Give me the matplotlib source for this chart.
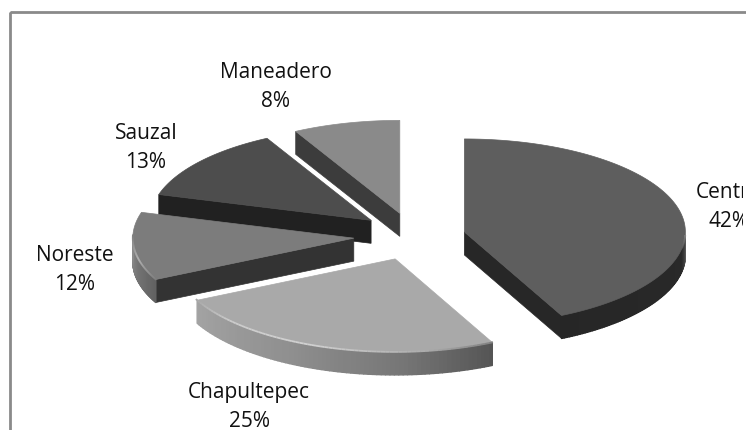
import numpy as np
import matplotlib
matplotlib.use('Agg')
import matplotlib.pyplot as plt
from matplotlib.patches import Polygon, Rectangle
from matplotlib.collections import PolyCollection, LineCollection

names = ['Centro', 'Chapultepec', 'Noreste', 'Sauzal', 'Maneadero']
percents = [42, 25, 12, 13, 8]

# how far each slice is pulled out, as a fraction of the radius
explode = [0.24, 0.29, 0.27, 0.24, 0.24]
nudge_y = [1.5, -3, -1, -2, -1]

top_colors = ['#5e5e5e', '#a9a9a9', '#7c7c7c', '#4d4d4d', '#8a8a8a']
cut_colors = ['#272727', '#555555', '#333333', '#212121', '#3c3c3c']

# wall shade along the outer edge, (angle, grey) stops
wall_angles = [[90, 93, 100, 152], [151, 175, 205, 242], [241, 255, 271], [284, 360], [331, 360]]
wall_greys = [[0.55, 0.3, 0.16, 0.15], [0.33, 0.46, 0.56, 0.64], [0.38, 0.45, 0.55], [0.2, 0.2], [0.2, 0.2]]

# light rim on the top edge, (angle, grey) stops
rim_angles = [[90, 92, 98], [151, 170, 200, 225, 242], [241, 255, 270], [], []]
rim_greys = [[0.6, 0.5, 0.37], [0.5, 0.68, 0.82, 0.8, 0.66], [0.5, 0.75, 0.5], [], []]

# label centres
label_x = [729, 249, 75, 146, 276]
label_y = [207, 407, 270, 148, 87]

CX, CY = 413, 236
RX, RY = 221, 93
DEPTH = 23
TEXT_RIGHT = 742.5


def arc_points(x0, y0, a):
    # small skew of the angles, the 3D view is not a clean ellipse
    r = np.radians(a + 2.8 * np.sin(np.radians(a / 2)))
    return np.column_stack([x0 + RX * np.sin(r), y0 - RY * np.cos(r)])


fig = plt.figure(figsize=(7.46, 4.3), dpi=100)
ax = fig.add_axes([0, 0, 1, 1])
ax.set_xlim(0, 746)
ax.set_ylim(430, 0)
ax.axis('off')

# chart area border, runs off the right and bottom
ax.add_patch(Rectangle((10, 12), 800, 500, fill=False, ec='#8a8a8a', lw=2.0, zorder=1))

stops = np.cumsum([0] + percents) * 3.6
draw_order = [4, 3, 2, 1, 0]

for z, i in enumerate(draw_order):
    a0, a1 = stops[i], stops[i + 1]
    mid = np.radians((a0 + a1) / 2)
    x0 = CX + explode[i] * RX * np.sin(mid)
    y0 = CY - explode[i] * RY * np.cos(mid) + nudge_y[i]
    base = 2 + z * 4
    apex = np.array([x0, y0])
    drop = np.array([0, DEPTH])

    # straight cut faces that look downward
    cut_angles = []
    if 180 < a0 < 360:
        cut_angles.append(a0)
    if 0 < a1 < 180:
        cut_angles.append(a1)
    for a in cut_angles:
        p = arc_points(x0, y0, np.array([a]))[0]
        ax.add_patch(Polygon([apex, p, p + drop, apex + drop], fc=cut_colors[i],
                             ec=cut_colors[i], lw=0.5, zorder=base))

    # outer wall, only the front half of the ellipse shows
    w0, w1 = max(a0, 90), min(a1, 270)
    if w1 > w0:
        ang = np.linspace(w0, w1, 80)
        edge = arc_points(x0, y0, ang)
        quads = [[edge[k], edge[k + 1], edge[k + 1] + drop, edge[k] + drop] for k in range(len(edge) - 1)]
        greys = np.interp((ang[:-1] + ang[1:]) / 2, wall_angles[i], wall_greys[i])
        colors = [(g, g, g) for g in greys]
        ax.add_collection(PolyCollection(quads, facecolors=colors, edgecolors=colors,
                                         linewidths=1.0, zorder=base + 1))

    # top face
    ang = np.linspace(a0, a1, 120)
    edge = arc_points(x0, y0, ang)
    ax.add_patch(Polygon(np.vstack([apex, edge]), fc=top_colors[i], ec=top_colors[i],
                         lw=0.5, zorder=base + 2))

    # highlight along the rim
    if rim_angles[i]:
        ang = np.linspace(rim_angles[i][0], rim_angles[i][-1], 80)
        edge = arc_points(x0, y0, ang)
        segs = [[edge[k], edge[k + 1]] for k in range(len(edge) - 1)]
        greys = np.interp((ang[:-1] + ang[1:]) / 2, rim_angles[i], rim_greys[i])
        ax.add_collection(LineCollection(segs, colors=[(g, g, g) for g in greys],
                                         linewidths=1.3, zorder=base + 3))

# labels stop short of the right side, the Centro one gets cut there
text_clip = Rectangle((0, 0), TEXT_RIGHT, 430, transform=ax.transData)
for name, pct, lx, ly in zip(names, percents, label_x, label_y):
    t = ax.text(lx, ly, f'{name}\n{pct}%', ha='center', va='center', fontsize=15,
                family='Open Sans', color='#111111', linespacing=1.5, zorder=30)
    t.set_clip_path(text_clip)
    t.set_clip_on(True)

fig.savefig('out.png', dpi=100)
